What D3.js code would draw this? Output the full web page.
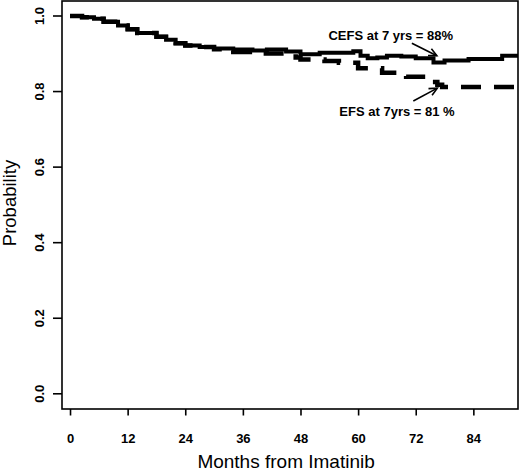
<!DOCTYPE html>
<html>
<head>
<meta charset="utf-8">
<script src="https://cdn.jsdelivr.net/npm/d3@7"></script>
<style>
  html, body { margin: 0; padding: 0; background: #fff; }
  svg { display: block; }
  text { font-family: "Liberation Sans", Arial, Helvetica, sans-serif; fill: #000; }
</style>
</head>
<body>
<svg id="chart" width="520" height="472"></svg>
<script>
// ---- data (months, probability) ----
const cefsMonths = [0, 2.5, 5, 7, 10, 12, 14, 18, 20, 22, 24, 27, 30, 34, 38, 41, 45, 48, 52, 59, 60.5, 62, 64, 66, 69, 72, 75.7, 78, 83, 90, 95];
const cefsProb   = [1, 0.997, 0.993, 0.985, 0.975, 0.965, 0.955, 0.945, 0.937, 0.928, 0.922, 0.918, 0.914, 0.911, 0.909, 0.911, 0.906, 0.899, 0.903, 0.907, 0.895, 0.888, 0.890, 0.895, 0.893, 0.888, 0.877, 0.882, 0.886, 0.895, 0.895];
const efsMonths  = [0, 2.5, 5, 7, 10, 12, 14, 18, 20, 22, 24, 27, 30, 34, 40, 47, 48, 53, 56, 60, 65, 70, 75, 76.5, 77.5, 95];
const efsProb    = [1, 0.997, 0.993, 0.985, 0.975, 0.965, 0.955, 0.945, 0.937, 0.928, 0.922, 0.918, 0.912, 0.905, 0.901, 0.890, 0.885, 0.881, 0.876, 0.862, 0.850, 0.839, 0.825, 0.818, 0.812, 0.812];
const xTicks = [0, 12, 24, 36, 48, 60, 72, 84];
const yTicks = [0.0, 0.2, 0.4, 0.6, 0.8, 1.0];
const xTitle = "Months from Imatinib";
const yTitle = "Probability";
const annotations = [
  { text: "CEFS at 7 yrs = 88%", tx: 66.8, ty: 0.9365, from: [71.2, 0.928], to: [76.4, 0.895] },
  { text: "EFS at 7yrs = 81 %",  tx: 68.1, ty: 0.734,  from: [71.5, 0.775], to: [76.5, 0.809] }
];

// ---- layout ----
const box = { left: 62, top: 1, right: 518, bottom: 409 };
const svg = d3.select("#chart");

const x = d3.scaleLinear().domain([-1.67, 93.3]).range([box.left, box.right]);
const y = d3.scaleLinear().domain([0, 1]).range([393.8, 16]);

// clip
const defs = svg.append("defs");
defs.append("clipPath").attr("id", "clip")
  .append("rect").attr("x", box.left).attr("y", box.top)
  .attr("width", box.right - box.left).attr("height", box.bottom - box.top);

defs.append("marker")
  .attr("id", "arrow").attr("viewBox", "-10 -6 12 12")
  .attr("refX", 0).attr("refY", 0)
  .attr("markerWidth", 12).attr("markerHeight", 12)
  .attr("markerUnits", "userSpaceOnUse")
  .attr("orient", "auto")
  .append("path").attr("d", "M-8,-3.8 L0,0 L-8,3.8")
  .attr("fill", "none").attr("stroke", "#000").attr("stroke-width", 1.6);

// curves
const stepLine = d3.line().x(d => x(d[0])).y(d => y(d[1])).curve(d3.curveStepAfter);
const cefs = cefsMonths.map((m, i) => [m, cefsProb[i]]);
const efs = efsMonths.map((m, i) => [m, efsProb[i]]);

const g = svg.append("g").attr("clip-path", "url(#clip)");
g.append("path").datum(efs).attr("d", stepLine)
  .attr("fill", "none").attr("stroke", "#000").attr("stroke-width", 4.5)
  .attr("stroke-dasharray", "20,13");
g.append("path").datum(cefs).attr("d", stepLine)
  .attr("fill", "none").attr("stroke", "#000").attr("stroke-width", 4);

// box
svg.append("rect").attr("x", box.left).attr("y", box.top)
  .attr("width", box.right - box.left).attr("height", box.bottom - box.top)
  .attr("fill", "none").attr("stroke", "#000").attr("stroke-width", 1.6);

// x axis
const xAxis = svg.append("g").attr("transform", `translate(0,${box.bottom})`)
  .call(d3.axisBottom(x).tickValues(xTicks).tickSize(6.5).tickPadding(18).tickFormat(d3.format("d")));
xAxis.select(".domain").remove();
xAxis.selectAll("line").attr("stroke", "#000").attr("stroke-width", 1.6);
xAxis.selectAll("text").attr("font-size", 13).attr("font-weight", "bold")
  .attr("font-family", "Liberation Sans, Arial, sans-serif");

// y axis
const yAxis = svg.append("g").attr("transform", `translate(${box.left},0)`)
  .call(d3.axisLeft(y).tickValues(yTicks).tickSize(9).tickFormat(d3.format(".1f")));
yAxis.select(".domain").remove();
yAxis.selectAll("line").attr("stroke", "#000").attr("stroke-width", 1.6);
yAxis.selectAll("text")
  .attr("font-size", 13).attr("font-weight", "bold")
  .attr("font-family", "Liberation Sans, Arial, sans-serif")
  .attr("x", null).attr("dy", null)
  .attr("text-anchor", "middle")
  .attr("transform", d => `translate(${43.5 - box.left},${y(d)}) rotate(-90)`)
  .attr("y", 0);
yAxis.selectAll(".tick").attr("transform", "translate(0,0)");
yAxis.selectAll(".tick line").attr("y1", d => y(d)).attr("y2", d => y(d));

// titles
svg.append("text").attr("x", x(45)).attr("y", 467.5)
  .attr("text-anchor", "middle").attr("font-size", 19).text(xTitle);
svg.append("text").attr("transform", `translate(15.5,${y(0.505)}) rotate(-90)`)
  .attr("text-anchor", "middle").attr("font-size", 18.5).text(yTitle);

// annotations
annotations.forEach(a => {
  svg.append("text").attr("x", x(a.tx)).attr("y", y(a.ty))
    .attr("text-anchor", "middle").attr("font-size", 13).attr("font-weight", "bold").text(a.text);
  svg.append("line")
    .attr("x1", x(a.from[0])).attr("y1", y(a.from[1]))
    .attr("x2", x(a.to[0])).attr("y2", y(a.to[1]))
    .attr("stroke", "#000").attr("stroke-width", 1.6)
    .attr("marker-end", "url(#arrow)");
});
</script>
</body>
</html>
